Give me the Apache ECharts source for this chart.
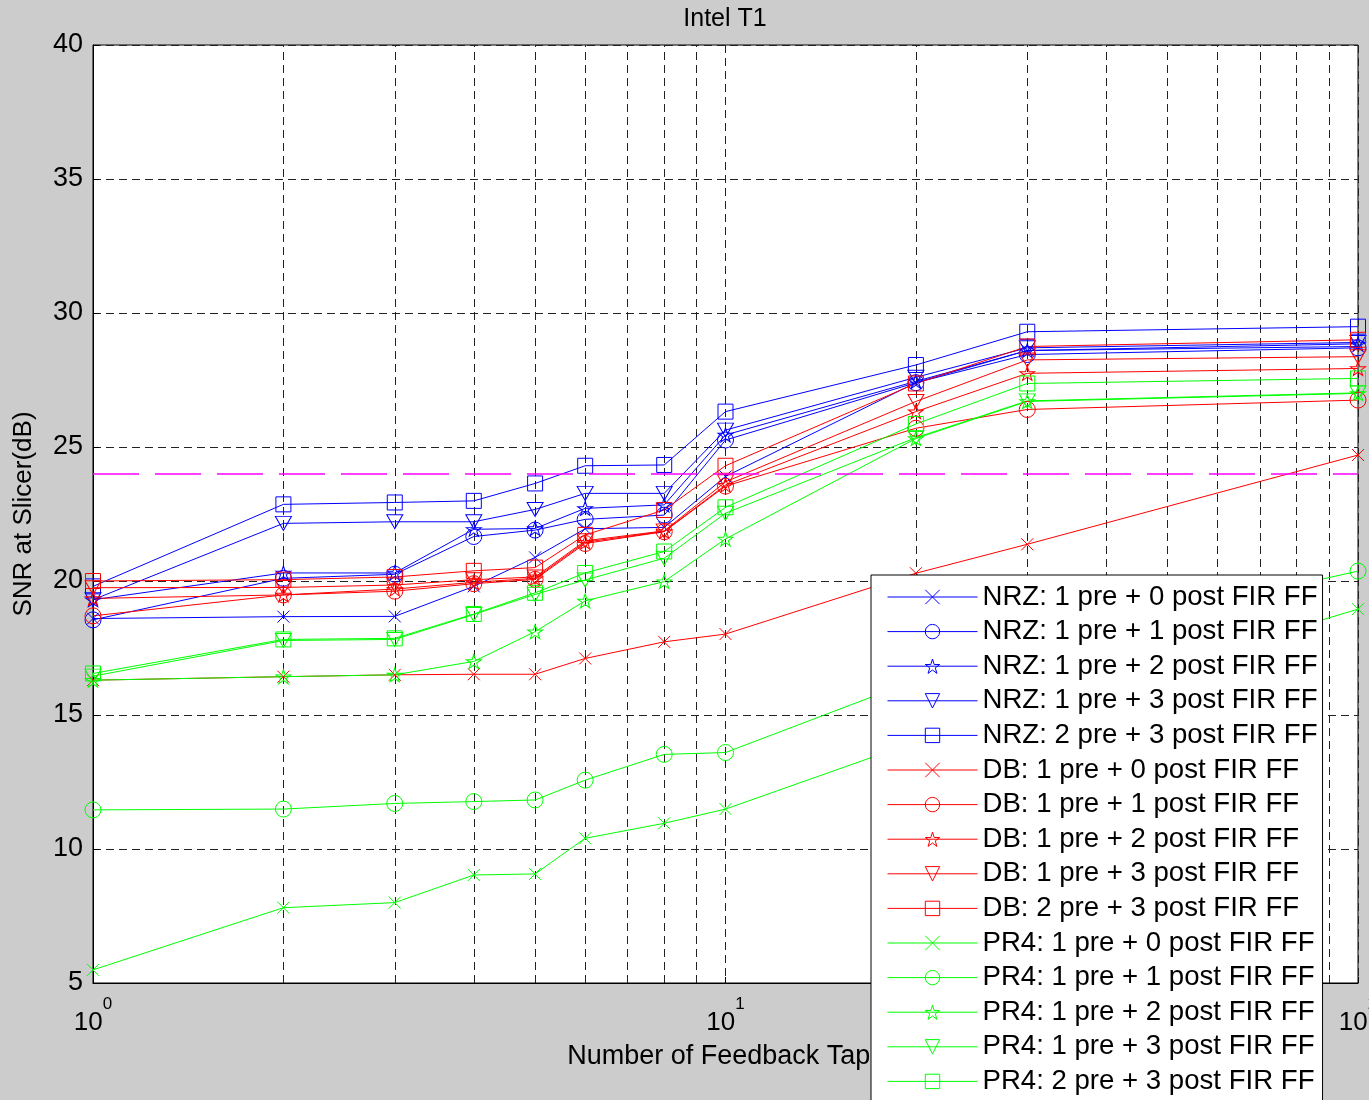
<!DOCTYPE html>
<html><head><meta charset="utf-8">
<script src="https://cdn.jsdelivr.net/npm/echarts@6/dist/echarts.min.js"></script>
<style>html,body{margin:0;padding:0;background:#cccccc}#c{width:1369px;height:1100px}</style>
</head><body><div id="c"></div>
<script>
// ---------------- data ----------------
const taps = [1, 2, 3, 4, 5, 6, 8, 10, 20, 30, 100];
const minorGridTaps = [2, 3, 4, 5, 6, 7, 8, 9, 20, 30, 40, 50, 60, 70, 80, 90];
const targetSnr = 24;
const yTicks = [5, 10, 15, 20, 25, 30, 35, 40];

const nrz_1pre_0post = [18.6, 18.67, 18.68, 19.8, 20.88, 21.95, 22.0, 23.9, 27.4, 28.6, 28.75];
const nrz_1pre_1post = [18.55, 20.1, 20.25, 21.66, 21.9, 22.3, 22.46, 25.26, 27.4, 28.45, 28.7];
const nrz_1pre_2post = [19.3, 20.3, 20.3, 21.93, 21.96, 22.71, 22.84, 25.45, 27.45, 28.6, 28.85];
const nrz_1pre_3post = [19.3, 22.15, 22.21, 22.21, 22.67, 23.27, 23.27, 25.63, 27.6, 28.7, 28.9];
const nrz_2pre_3post = [19.8, 22.86, 22.93, 22.99, 23.64, 24.3, 24.33, 26.32, 28.06, 29.3, 29.49];

const db_1pre_0post = [16.3, 16.43, 16.5, 16.52, 16.52, 17.11, 17.73, 18.02, 20.29, 21.37, 24.7];
const db_1pre_1post = [18.7, 19.48, 19.62, 19.9, 20.06, 21.4, 21.84, 23.54, 25.7, 26.4, 26.75];
const db_1pre_2post = [19.35, 19.48, 19.7, 19.95, 20.1, 21.45, 21.85, 23.58, 26.32, 27.75, 27.93];
const db_1pre_3post = [19.75, 19.76, 19.85, 20.05, 20.15, 21.5, 21.87, 23.7, 26.7, 28.25, 28.37];
const db_2pre_3post = [20.0, 20.05, 20.15, 20.38, 20.5, 21.72, 22.65, 24.3, 27.37, 28.75, 29.0];

const pr4_1pre_0post = [5.49, 7.81, 8.0, 9.03, 9.07, 10.4, 10.96, 11.49, 14.0, 15.25, 18.95];
const pr4_1pre_1post = [11.46, 11.49, 11.7, 11.77, 11.83, 12.57, 13.53, 13.6, 16.3, 17.6, 20.37];
const pr4_1pre_2post = [16.3, 16.43, 16.5, 17.0, 18.11, 19.26, 19.98, 21.57, 25.32, 26.7, 27.0];
const pr4_1pre_3post = [16.45, 17.78, 17.82, 18.75, 19.5, 20.04, 20.85, 22.53, 25.35, 26.72, 27.02];
const pr4_2pre_3post = [16.55, 17.82, 17.86, 18.77, 19.56, 20.3, 21.1, 22.75, 25.86, 27.37, 27.56];

const seriesNames = [
  'NRZ: 1 pre + 0 post FIR FF', 'NRZ: 1 pre + 1 post FIR FF', 'NRZ: 1 pre + 2 post FIR FF',
  'NRZ: 1 pre + 3 post FIR FF', 'NRZ: 2 pre + 3 post FIR FF',
  'DB: 1 pre + 0 post FIR FF', 'DB: 1 pre + 1 post FIR FF', 'DB: 1 pre + 2 post FIR FF',
  'DB: 1 pre + 3 post FIR FF', 'DB: 2 pre + 3 post FIR FF',
  'PR4: 1 pre + 0 post FIR FF', 'PR4: 1 pre + 1 post FIR FF', 'PR4: 1 pre + 2 post FIR FF',
  'PR4: 1 pre + 3 post FIR FF', 'PR4: 2 pre + 3 post FIR FF'
];
const seriesValues = [
  nrz_1pre_0post, nrz_1pre_1post, nrz_1pre_2post, nrz_1pre_3post, nrz_2pre_3post,
  db_1pre_0post, db_1pre_1post, db_1pre_2post, db_1pre_3post, db_2pre_3post,
  pr4_1pre_0post, pr4_1pre_1post, pr4_1pre_2post, pr4_1pre_3post, pr4_2pre_3post
];

// ---------------- styles ----------------
const FONT = "'Liberation Sans', Arial, Helvetica, sans-serif";
const groupColors = ['#0000ff', '#ff0000', '#00ff00'];
const SYM_X = 'path://M0,0L10,10M10,0L0,10';
const SYM_TRI_DOWN = 'path://M0,0L10,0L5,8.66Z';
const SYM_STAR = 'path://M50,0L61.23,34.55L97.55,34.55L68.17,55.9L79.39,90.45L50,69.1L20.61,90.45L31.83,55.9L2.45,34.55L38.77,34.55Z';
const markerDefs = [
  {symbol: SYM_X, size: 12},
  {symbol: 'circle', size: 16},
  {symbol: SYM_STAR, size: [15, 14]},
  {symbol: SYM_TRI_DOWN, size: [16, 14]},
  {symbol: 'rect', size: 15}
];

const series = seriesNames.map((name, i) => {
  const color = groupColors[Math.floor(i / 5)];
  const m = markerDefs[i % 5];
  return {
    name: name,
    type: 'line',
    data: taps.map((t, k) => [t, seriesValues[i][k]]),
    symbol: m.symbol,
    symbolSize: m.size,
    showAllSymbol: true,
    lineStyle: {color: color, width: 1},
    itemStyle: {color: 'rgba(0,0,0,0)', borderColor: color, borderWidth: 1},
    emphasis: {disabled: true},
    z: 2
  };
});

// minor vertical gridlines (log decades) – drawn through the axis scale
series[0].markLine = {
  silent: true, symbol: ['none', 'none'], z: 1, animation: false,
  label: {show: false},
  lineStyle: {color: '#222', width: 1, type: [8, 5]},
  emphasis: {disabled: true},
  data: minorGridTaps.map(v => ({xAxis: v}))
};
// 24 dB target line
series[14].markLine = {
  silent: true, symbol: ['none', 'none'], animation: false,
  label: {show: false},
  lineStyle: {color: '#ff00ff', width: 1.5, type: [46, 16]},
  emphasis: {disabled: true},
  data: [{yAxis: targetSnr}]
};

const chart = echarts.init(document.getElementById('c'), null, {renderer: 'canvas'});
chart.setOption({
  animation: false,
  backgroundColor: '#cccccc',
  title: {
    text: 'Intel T1', left: 725, textAlign: 'center', top: 7, padding: 0,
    textStyle: {fontFamily: FONT, fontSize: 25, fontWeight: 'normal', color: '#000'}
  },
  grid: {
    left: 93, top: 45, right: 11, bottom: 117, show: true,
    outerBoundsMode: 'none', containLabel: false,
    backgroundColor: '#ffffff', borderColor: '#000', borderWidth: 1
  },
  xAxis: {
    type: 'log', logBase: 10, min: 1, max: 100,
    name: 'Number of Feedback Taps', nameLocation: 'middle', nameGap: 60,
    nameTextStyle: {fontFamily: FONT, fontSize: 27, color: '#000'},
    axisLine: {show: true, lineStyle: {color: '#000', width: 1}},
    axisTick: {show: true, inside: true, length: 6, lineStyle: {color: '#000'}},
    splitLine: {show: true, lineStyle: {color: '#222', width: 1, type: [8, 5]}},
    axisLabel: {
      show: true, margin: 13, showMinLabel: true, showMaxLabel: true, hideOverlap: false,
      formatter: v => '{b|10}{s|' + Math.round(Math.log10(v)) + '}',
      rich: {
        b: {fontFamily: FONT, fontSize: 26, color: '#000', lineHeight: 40, verticalAlign: 'bottom'},
        s: {fontFamily: FONT, fontSize: 17, color: '#000', lineHeight: 20, verticalAlign: 'top'}
      }
    }
  },
  yAxis: {
    type: 'value', min: 5, max: 40, interval: 5,
    name: 'SNR at Slicer(dB)', nameLocation: 'middle', nameGap: 56, nameRotate: 90,
    nameTextStyle: {fontFamily: FONT, fontSize: 26, color: '#000'},
    axisLine: {show: true, lineStyle: {color: '#000', width: 1}},
    axisTick: {show: true, inside: true, length: 6, lineStyle: {color: '#000'}},
    splitLine: {show: true, lineStyle: {color: '#222', width: 1, type: [8, 5]}},
    axisLabel: {fontFamily: FONT, fontSize: 27, color: '#000', margin: 10}
  },
  legend: {
    show: true, orient: 'vertical', left: 871, top: 575, height: 800,
    padding: [8, 5, 10, 16],
    backgroundColor: '#ffffff', borderColor: '#000', borderWidth: 1,
    itemWidth: 90, itemHeight: 18, itemGap: 6.6,
    selectedMode: false,
    itemStyle: {borderWidth: 1},
    lineStyle: {width: 1},
    textStyle: {fontFamily: FONT, fontSize: 27.6, color: '#000', lineHeight: 28},
    data: seriesNames
  },
  series: series
});
</script>
</body></html>
